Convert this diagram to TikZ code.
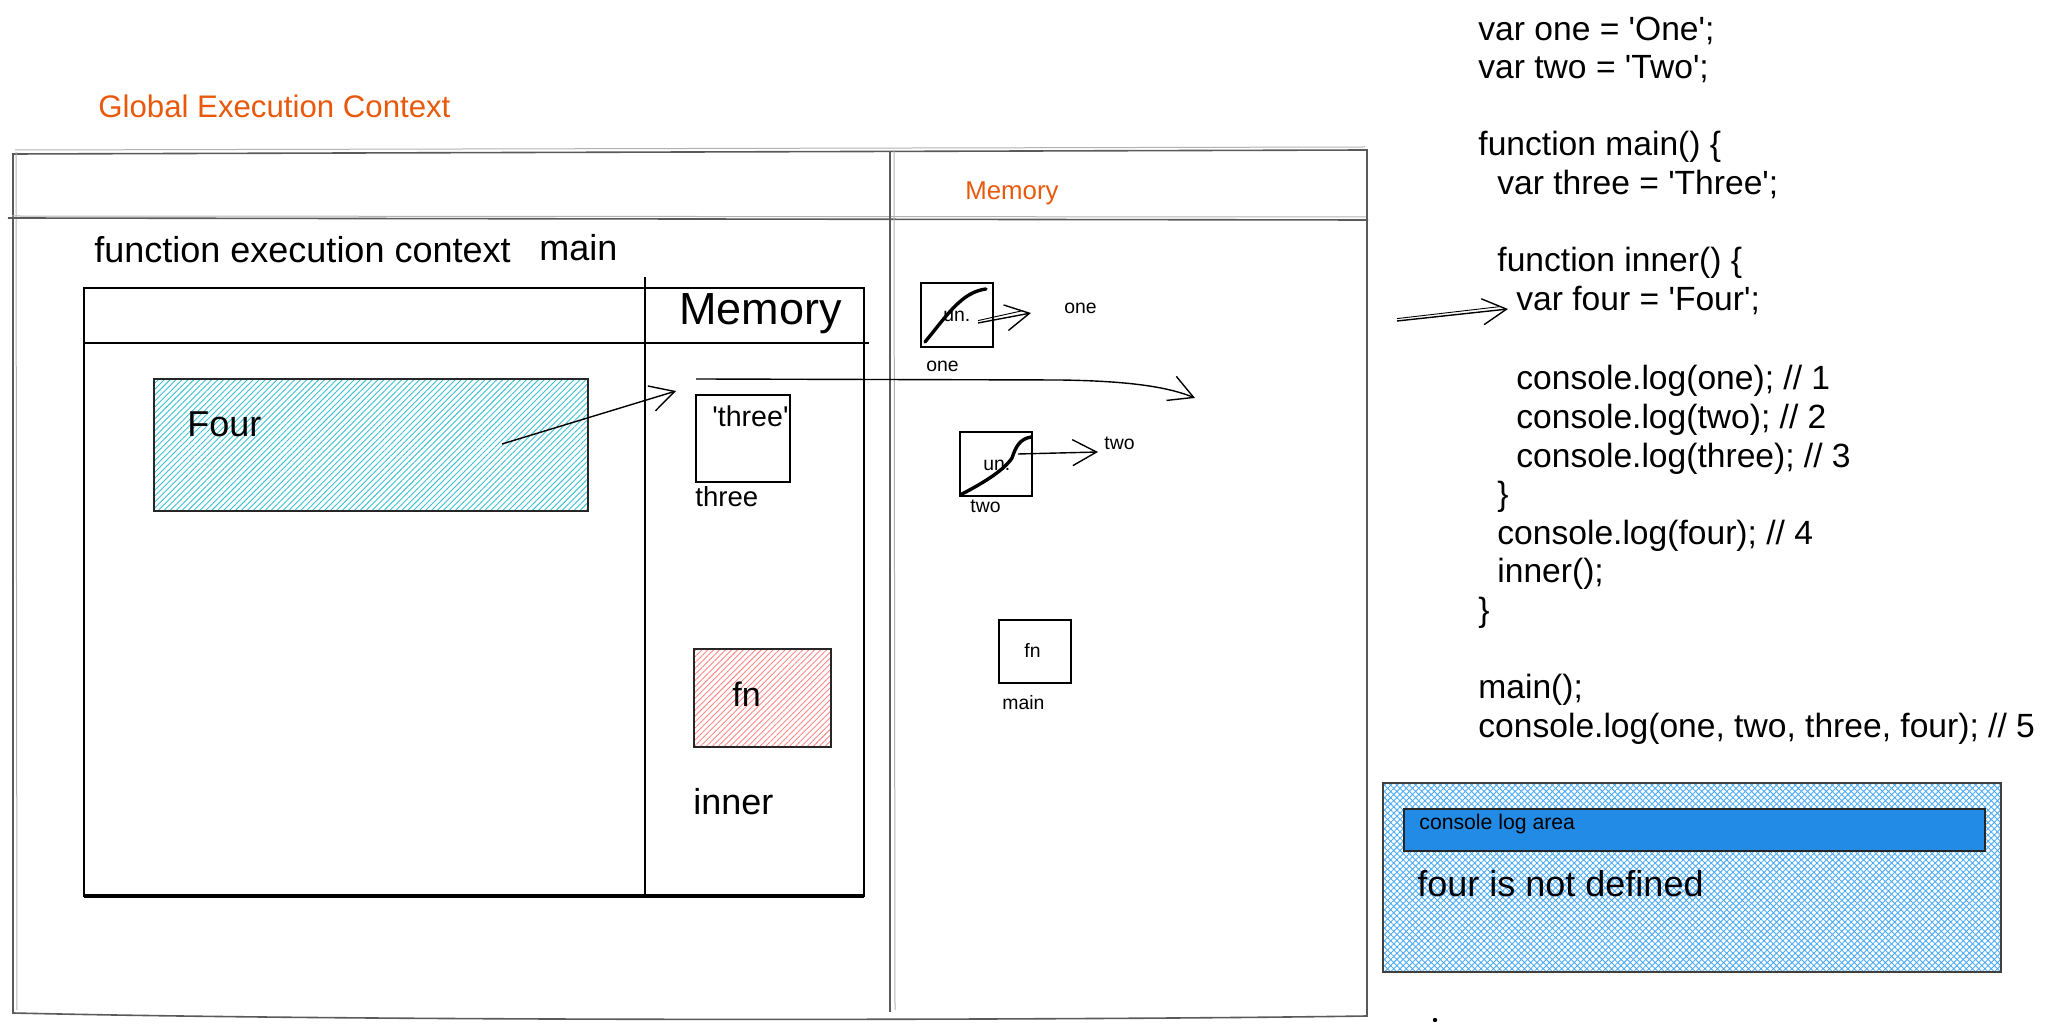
\documentclass[tikz,border=0pt]{standalone}
\usepackage{fontspec}
\setmainfont{Liberation Sans}
\usetikzlibrary{arrows.meta,patterns.meta}

\definecolor{hand}{HTML}{E8590C}
\definecolor{cyanhatch}{HTML}{3BC0D3}
\definecolor{redhatch}{HTML}{FF8787}
\definecolor{bluehatch}{HTML}{4DABF7}
\definecolor{barblue}{HTML}{228BE6}
\definecolor{framegray}{HTML}{5A5A5A}

\newcommand{\q}{\textquotesingle}

\begin{document}
\begin{tikzpicture}[x=0.5pt,y=-0.5pt,
  txt/.style={inner sep=0pt, anchor=base west},
  big/.style={txt, font=\fontsize{18}{21.6}\selectfont},
  code/.style={txt, font=\fontsize{16.8}{20}\selectfont},
  small/.style={txt, font=\fontsize{9.7}{11.6}\selectfont},
  handtxt/.style={txt, text=hand},
  frame/.style={draw=framegray, line width=0.8pt},
  frameghost/.style={draw=black!30, line width=0.5pt},
  box/.style={draw=black, line width=1pt},
  sk/.style={line width=0.7pt, -{Straight Barb[length=12pt,width=13pt,line width=0.7pt]}},
  thick stroke/.style={line width=1.7pt, line cap=round, line join=round}
]
\useasboundingbox (0,0) rectangle (2047,1031);

% ---------- global execution context frame ----------
\node[handtxt, font=\fontsize{15.6}{18}\selectfont] (gtitle) at (98,118) {Global Execution Context};

\draw[frame] (13,154) -- (1367,150) -- (1367,1016)
  .. controls (1100,1020) and (400,1022) .. (13,1013) -- cycle;
\draw[frameghost] (15,150) -- (1365,147);
\draw[frameghost] (16,152) -- (17,1010);
\draw[frame] (8,218) -- (1368,220);
\draw[frameghost] (12,216) -- (1366,217);
\draw[frame] (890,152) -- (890,1012);
\draw[frameghost] (894,150) -- (895,1010);

\node[handtxt, font=\fontsize{12.9}{15}\selectfont] (gmem) at (965,200) {Memory};

% ---------- function execution context (main) ----------
\node[big] (fec) at (94,263) {function execution context};
\node[big] (fmain) at (539,261) {main};

\draw[box] (84,288) rectangle (864,896);
\draw[line width=1.6pt] (84,896) -- (864,896);
\draw[box] (84,343) -- (869,343);
\draw[box] (645,277) -- (645,896);

\node[txt, font=\fontsize{22.5}{27}\selectfont] (lmem) at (679,325) {Memory};

% hatched block holding the value Four
\path[pattern={Lines[angle=45,distance=2.1pt,line width=0.45pt]}, pattern color=cyanhatch]
  (154,379) rectangle (588,511);
\draw[draw=black!85, line width=0.8pt] (154,379) rectangle (588,511);
\node[big] (four) at (187,437) {Four};

% local memory slots
\draw[box] (696,395) rectangle (790,482);
\node[txt, font=\fontsize{14.3}{17}\selectfont] (threeval) at (712,427) {\q three\q};
\node[txt, font=\fontsize{13.8}{16.5}\selectfont] (threelbl) at (695,507) {three};

\path[pattern={Lines[angle=45,distance=2.1pt,line width=0.45pt]}, pattern color=redhatch]
  (694,649) rectangle (831,747);
\draw[draw=black!85, line width=0.8pt] (694,649) rectangle (831,747);
\node[txt, font=\fontsize{17}{20}\selectfont] (fnred) at (732,707) {fn};
\node[big] (innerlbl) at (693,814) {inner};

% ---------- global memory slots ----------
\draw[box] (921,283) rectangle (993,347);
\draw[thick stroke] (925,342) .. controls (948,314) and (962,292) .. (986,289);
\node[small] (un1) at (943,322) {un.};
\node[small] (oneval) at (1064,314) {one};
\node[small] (onelbl) at (926,372) {one};

\draw[box] (960,432) rectangle (1032,496);
\draw[thick stroke] (962,494) .. controls (985,482) and (1004,470) .. (1012,458)
  .. controls (1016,446) and (1020,439) .. (1031,437);
\node[small] (un2) at (983,471) {un.};
\node[small] (twoval) at (1104,450) {two};
\node[small] (twolbl) at (970,513) {two};

\draw[box] (999,620) rectangle (1071,683);
\node[small] (fnmain) at (1024,658) {fn};
\node[small] (mainlbl) at (1002,710) {main};

% ---------- source code ----------
\node[code] (c1)  at (1478,41)  {var one = \q One\q;};
\node[code] (c2)  at (1478,79)  {var two = \q Two\q;};
\node[code] (c3)  at (1478,156) {function main() \{};
\node[code] (c4)  at (1497,195) {var three = \q Three\q;};
\node[code] (c5)  at (1497,272) {function inner() \{};
\node[code] (c6)  at (1516,311) {var four = \q Four\q;};
\node[code] (c7)  at (1516,390) {console.log(one); // 1};
\node[code] (c8)  at (1516,429) {console.log(two); // 2};
\node[code] (c9)  at (1516,468) {console.log(three); // 3};
\node[code] (c10) at (1497,506) {\}};
\node[code] (c11) at (1497,545) {console.log(four); // 4};
\node[code] (c12) at (1497,583) {inner();};
\node[code] (c13) at (1478,622) {\}};
\node[code] (c14) at (1478,699) {main();};
\node[code] (c15) at (1478,738) {console.log(one, two, three, four); // 5};

% ---------- console output ----------
\path[pattern={Hatch[angle=45,distance=2.2pt,line width=0.45pt]}, pattern color=bluehatch]
  (1383,783) rectangle (2001,972);
\draw[draw=black!75, line width=0.9pt] (1383,783) rectangle (2001,972);
\draw[fill=barblue, draw=black!85, line width=0.9pt] (1404,809) rectangle (1985,851);
\node[txt, font=\fontsize{10.6}{12.7}\selectfont] (logtitle) at (1419,829) {console log area};
\node[big] (logmsg) at (1417,897) {four is not defined};

\node[circle, fill=black, inner sep=0pt, minimum size=2.2pt] (dot) at (1435,1020) {};

% ---------- connectors ----------
\coordinate (fourin) at (502,444);
\coordinate (fourout) at (676,391);
\draw[sk] (fourin) -- (fourout);

\coordinate (scopestart) at (696,379);
\coordinate (scopeend) at (1195,398);
\draw[sk] (scopestart) -- (1060,380) .. controls (1130,381) and (1168,387) .. (scopeend);

\coordinate (u1s) at (978,323);
\coordinate (u1e) at (1031,313);
\draw[sk] (u1s) -- (u1e);
\draw[line width=0.45pt] ([yshift=1.2pt]u1s) -- ([yshift=1.2pt,xshift=-4pt]u1e);

\coordinate (u2s) at (1018,454);
\coordinate (u2e) at (1098,452);
\draw[sk] (u2s) -- (u2e);

\coordinate (cps) at (1397,321);
\coordinate (cpe) at (1508,309);
\draw[sk] (cps) -- (cpe);
\draw[line width=0.45pt] ([yshift=1.2pt]cps) -- ([yshift=1.2pt,xshift=-4pt]cpe);
\end{tikzpicture}
\end{document}
